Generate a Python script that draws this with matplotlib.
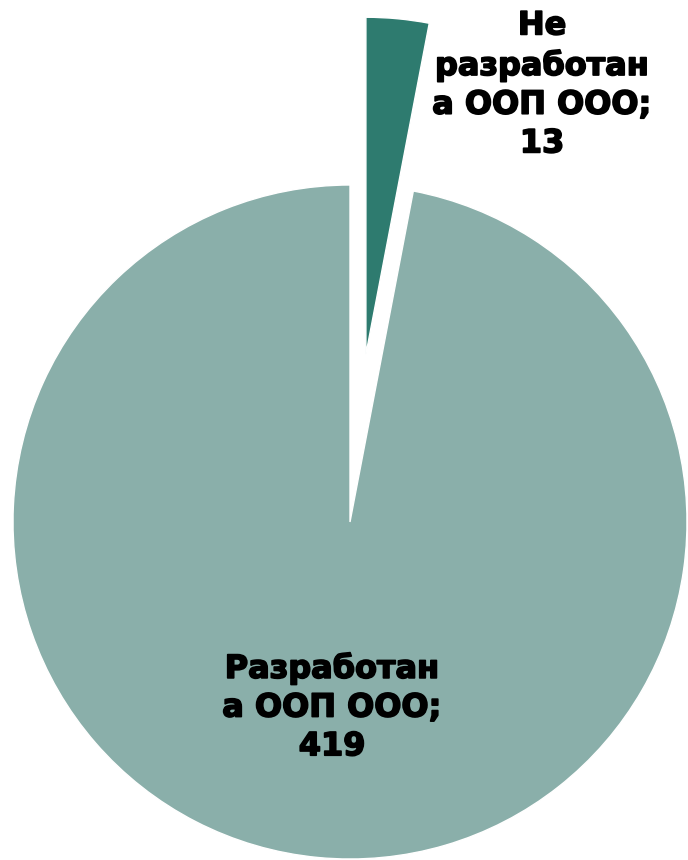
import matplotlib
matplotlib.use("Agg")
import matplotlib.pyplot as plt
import matplotlib.patheffects as pe

labels = ["Не\nразработан\nа ООП ООО", "Разработан\nа ООП ООО"]
values = [13, 419]
colors = ["#2e7b6f", "#8aafaa"]
explode = [0.5, 0.0]

fig = plt.figure(figsize=(6.88, 8.6), dpi=100)
ax = fig.add_axes([0, 0, 1, 1], frameon=False)

r = 337.0
wedges, _ = ax.pie(values, colors=colors, explode=explode, startangle=90,
                   counterclock=False, radius=1.0,
                   wedgeprops=dict(edgecolor="white", linewidth=1))

ax.set_xlim(-350 / r, 338 / r)
ax.set_ylim(-338 / r, 522 / r)
ax.set_aspect("equal")
ax.set_xticks([])
ax.set_yticks([])

# label positions in data units
pos = [(0.57, 1.297), (-0.053, -0.55)]
for lab, v, (x, y) in zip(labels, values, pos):
    ax.text(x, y, f"{lab};\n{v}", ha="center", va="center",
            fontsize=23, fontweight="bold", family="DejaVu Sans",
            linespacing=1.32, color="black",
            path_effects=[pe.withStroke(linewidth=1.2, foreground="black")])

fig.savefig("out.png", dpi=100)
